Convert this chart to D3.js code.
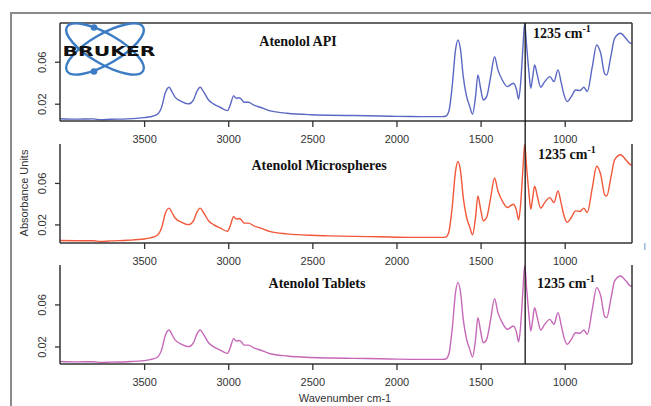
<!DOCTYPE html>
<html><head><meta charset="utf-8">
<script src="https://cdn.jsdelivr.net/npm/d3@7"></script>
<style>body{margin:0;background:#fff}svg{display:block}</style>
</head><body>
<script>
// ---- data ----
const wavenumbers = [4000,3900,3800,3760,3700,3600,3500,3464,3424,3395,3375,3351,3335,3316,3276,3236,3207,3187,3167,3147,3117,3088,3048,3004,2988,2968,2952,2935,2920,2905,2879,2850,2810,2750,2650,2512,2400,2256,2100,1996,1850,1730,1708,1689,1669,1649,1635,1619,1603,1583,1564,1548,1530,1516,1500,1484,1464,1440,1417,1397,1371,1341,1305,1286,1274,1262,1248,1238,1226,1212,1202,1190,1179,1163,1143,1119,1088,1064,1040,1020,1004,985,961,935,909,886,866,836,810,786,762,750,726,703,667,637,607,600];
const apiValues = [0.0062,0.0058,0.0060,0.0052,0.0056,0.0060,0.0072,0.0080,0.0100,0.0177,0.0305,0.0362,0.0320,0.0267,0.0225,0.0203,0.0240,0.0320,0.0362,0.0320,0.0240,0.0203,0.0171,0.0139,0.0193,0.0279,0.0257,0.0262,0.0245,0.0218,0.0218,0.0193,0.0171,0.0136,0.0114,0.0100,0.0095,0.0092,0.0088,0.0084,0.0082,0.0082,0.0085,0.0130,0.0368,0.0717,0.0812,0.0717,0.0463,0.0272,0.0177,0.0105,0.0272,0.0479,0.0352,0.0240,0.0272,0.0463,0.0653,0.0527,0.0431,0.0368,0.0400,0.0336,0.0248,0.0400,0.0749,0.0970,0.0749,0.0495,0.0352,0.0463,0.0574,0.0479,0.0362,0.0415,0.0463,0.0415,0.0527,0.0400,0.0289,0.0225,0.0272,0.0336,0.0330,0.0362,0.0320,0.0558,0.0765,0.0686,0.0489,0.0479,0.0653,0.0829,0.0876,0.0829,0.0780,0.0780];
const microValues = [0.0050,0.0048,0.0047,0.0040,0.0046,0.0052,0.0064,0.0075,0.0098,0.0177,0.0305,0.0362,0.0320,0.0267,0.0225,0.0203,0.0240,0.0320,0.0362,0.0320,0.0240,0.0203,0.0171,0.0139,0.0193,0.0279,0.0257,0.0262,0.0245,0.0218,0.0218,0.0193,0.0171,0.0136,0.0114,0.0100,0.0095,0.0090,0.0086,0.0082,0.0080,0.0080,0.0083,0.0130,0.0368,0.0717,0.0812,0.0717,0.0463,0.0272,0.0177,0.0105,0.0272,0.0479,0.0352,0.0240,0.0272,0.0463,0.0653,0.0527,0.0431,0.0368,0.0400,0.0336,0.0248,0.0400,0.0749,0.0975,0.0749,0.0495,0.0352,0.0463,0.0574,0.0479,0.0362,0.0415,0.0463,0.0415,0.0527,0.0400,0.0289,0.0225,0.0272,0.0336,0.0330,0.0362,0.0320,0.0558,0.0765,0.0686,0.0489,0.0479,0.0653,0.0829,0.0876,0.0829,0.0780,0.0780];
const tabletValues = [0.0062,0.0058,0.0060,0.0052,0.0056,0.0060,0.0070,0.0080,0.0100,0.0177,0.0305,0.0362,0.0320,0.0267,0.0225,0.0203,0.0240,0.0320,0.0362,0.0320,0.0240,0.0203,0.0171,0.0139,0.0193,0.0279,0.0257,0.0262,0.0245,0.0218,0.0218,0.0193,0.0171,0.0136,0.0114,0.0100,0.0095,0.0092,0.0088,0.0084,0.0082,0.0082,0.0085,0.0130,0.0368,0.0717,0.0815,0.0717,0.0463,0.0272,0.0177,0.0105,0.0272,0.0479,0.0352,0.0240,0.0272,0.0463,0.0660,0.0527,0.0431,0.0368,0.0400,0.0336,0.0248,0.0400,0.0749,0.0975,0.0749,0.0495,0.0352,0.0463,0.0574,0.0479,0.0362,0.0415,0.0463,0.0415,0.0527,0.0400,0.0289,0.0225,0.0272,0.0336,0.0330,0.0362,0.0320,0.0558,0.0765,0.0686,0.0489,0.0479,0.0653,0.0829,0.0876,0.0829,0.0780,0.0780];
const panelTitles = ["Atenolol API","Atenolol Microspheres","Atenolol Tablets"];
const xTicks = [3500,3000,2500,2000,1500,1000];
const yTicks = [0.02,0.06];
const markerWavenumber = 1235;
const markerLabel = "1235 cm";
const yTitle = "Absorbance Units";
const xTitle = "Wavenumber cm-1";

// ---- layout ----
const W = 651, H = 406;
const svg = d3.select("body").append("svg").attr("width", W).attr("height", H);
svg.append("rect").attr("width", W).attr("height", H).attr("fill", "#fff");
svg.append("rect").attr("x", 11).attr("y", 13).attr("width", 700).attr("height", 500)
  .attr("fill", "none").attr("stroke", "#8a8a8a").attr("stroke-width", 2);

const x = d3.scaleLinear().domain([4000, 600]).range([60, 632]);
const panels = [
  {values: apiValues, color: "#5a68c4", top: 23, bottom: 121, dom: [0.004, 0.0974], topLine: true, title: [298, 46], ann: [533, 38]},
  {values: microValues, color: "#f2573a", top: 144, bottom: 243, dom: [0.0026, 0.098], topLine: false, title: [319, 170], ann: [538, 159]},
  {values: tabletValues, color: "#c668b8", top: 265, bottom: 364, dom: [0.0038, 0.098], topLine: false, title: [317, 288], ann: [537, 288]}
];
const axisColor = "#333";

panels.forEach((p, pi) => {
  const y = d3.scaleLinear().domain(p.dom).range([p.bottom, p.top]);
  const g = svg.append("g");
  const clipId = "clip" + pi;
  g.append("clipPath").attr("id", clipId).append("rect")
    .attr("x", 60).attr("y", p.top).attr("width", 572).attr("height", p.bottom - p.top);
  // spectrum
  const line = d3.line().x((d, i) => x(wavenumbers[i])).y(d => y(d)).curve(d3.curveMonotoneX);
  g.append("path").datum(p.values).attr("d", line).attr("fill", "none")
    .attr("stroke", p.color).attr("stroke-width", 1.4).attr("clip-path", `url(#${clipId})`);
  // frame lines
  const fr = g.append("g").attr("stroke", axisColor).attr("stroke-width", 1.5).attr("fill", "none");
  fr.append("line").attr("x1", 60).attr("x2", 60).attr("y1", p.top).attr("y2", p.bottom);
  fr.append("line").attr("x1", 632).attr("x2", 632).attr("y1", p.top).attr("y2", p.bottom);
  fr.append("line").attr("x1", 60).attr("x2", 632).attr("y1", p.bottom).attr("y2", p.bottom);
  if (p.topLine) fr.append("line").attr("x1", 60).attr("x2", 632).attr("y1", p.top).attr("y2", p.top);
  // x axis
  const xa = g.append("g").attr("transform", `translate(0,${p.bottom})`)
    .call(d3.axisBottom(x).tickValues(xTicks).tickSize(6).tickPadding(8).tickFormat(d3.format("d")));
  xa.select(".domain").remove();
  xa.selectAll("line").attr("stroke", axisColor).attr("stroke-width", 1.3);
  xa.selectAll("text").attr("font-family", "Liberation Sans, Arial, sans-serif").attr("font-size", 11).attr("fill", "#333");
  // y axis
  const ya = g.append("g").attr("transform", `translate(60,0)`)
    .call(d3.axisLeft(y).tickValues(yTicks).tickSize(5).tickFormat(d3.format(".2f")));
  ya.select(".domain").remove();
  ya.selectAll(".tick").attr("transform", null);
  ya.selectAll(".tick line").attr("y1", d => y(d)).attr("y2", d => y(d))
    .attr("stroke", axisColor).attr("stroke-width", 1.3);
  ya.selectAll("text").attr("font-family", "Liberation Sans, Arial, sans-serif").attr("font-size", 11).attr("fill", "#333")
    .attr("text-anchor", "middle").attr("x", 0).attr("y", 0).attr("dy", 0)
    .attr("transform", d => `translate(-17,${y(d)}) rotate(-90)`).attr("dominant-baseline", "middle");
  // title
  g.append("text").attr("x", p.title[0]).attr("y", p.title[1]).attr("text-anchor", "middle")
    .attr("font-family", "Liberation Serif, Times New Roman, serif").attr("font-weight", "bold")
    .attr("font-size", 14).attr("fill", "#111").text(panelTitles[pi]);
  // annotation
  const t = g.append("text").attr("x", p.ann[0]).attr("y", p.ann[1])
    .attr("font-family", "Liberation Serif, Times New Roman, serif").attr("font-weight", "bold")
    .attr("font-size", 14).attr("fill", "#111");
  t.append("tspan").text(markerLabel);
  t.append("tspan").attr("dy", -6).attr("font-size", 10).text("-1");
});

// vertical marker line
svg.append("line").attr("x1", x(markerWavenumber)).attr("x2", x(markerWavenumber))
  .attr("y1", 23).attr("y2", 364).attr("stroke", "#111").attr("stroke-width", 1.3);

// axis titles
svg.append("text").attr("transform", "translate(25,193) rotate(-90)").attr("text-anchor", "middle")
  .attr("dominant-baseline", "middle").attr("font-family", "Liberation Sans, Arial, sans-serif")
  .attr("font-size", 11).attr("fill", "#333").text(yTitle);
svg.append("text").attr("x", 345).attr("y", 402).attr("text-anchor", "middle")
  .attr("font-family", "Liberation Sans, Arial, sans-serif").attr("font-size", 11).attr("fill", "#333").text(xTitle);

// Bruker logo
const logo = svg.append("g");
const blue = "#3b7cc4";
[30, -30].forEach(a => {
  logo.append("ellipse").attr("cx", 105).attr("cy", 49).attr("rx", 44).attr("ry", 15)
    .attr("transform", `rotate(${a},105,49)`).attr("fill", "none").attr("stroke", blue).attr("stroke-width", 2.4);
});
logo.append("circle").attr("cx", 94).attr("cy", 27.5).attr("r", 3.3).attr("fill", blue);
logo.append("circle").attr("cx", 94).attr("cy", 71.5).attr("r", 3.3).attr("fill", blue);
logo.append("text").attr("x", 62.5).attr("y", 55.5).attr("textLength", 93).attr("lengthAdjust", "spacingAndGlyphs")
  .attr("font-family", "DejaVu Sans, sans-serif").attr("font-weight", "bold").attr("font-size", 13.5)
  .attr("fill", "#111").text("BRUKER");

// small edge artifact
svg.append("rect").attr("x", 644).attr("y", 243).attr("width", 1.6).attr("height", 7).attr("fill", "#9fbbe0");
</script>
</body></html>
